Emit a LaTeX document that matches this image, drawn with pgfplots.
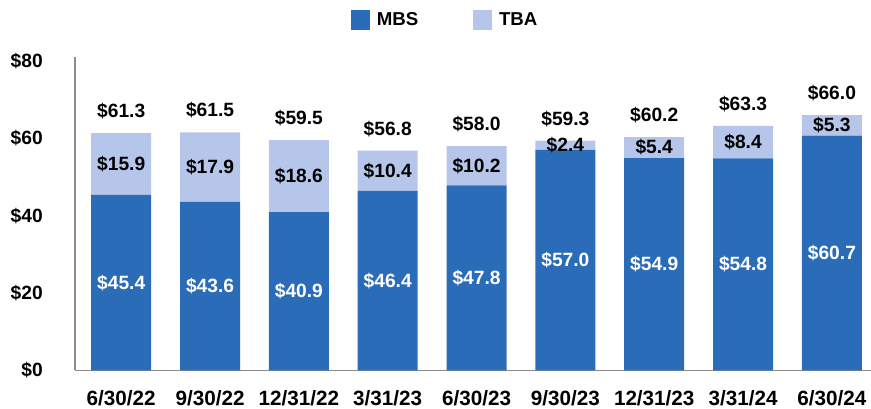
\documentclass[border=0pt]{standalone}
\usepackage{pgfplots}
\pgfplotsset{compat=1.18}
\usepackage{pgfplotstable}
\usepackage{fontspec}
\setmainfont{Liberation Sans}
\definecolor{mbs}{HTML}{2B6CB9}
\definecolor{tba}{HTML}{B6C5EA}
\definecolor{axgray}{HTML}{8C8C8C}
\pgfplotstableread{
x mbs tba zero tot
0 45.4 15.9 0.001 61.3
1 43.6 17.9 0.001 61.5
2 40.9 18.6 0.001 59.5
3 46.4 10.4 0.001 56.8
4 47.8 10.2 0.001 58.0
5 57.0 2.4 0.001 59.3
6 54.9 5.4 0.001 60.2
7 54.8 8.4 0.001 63.3
8 60.7 5.3 0.001 66.0
}\datatable
\newcommand{\vfont}{\fontsize{14.4}{16}\selectfont\bfseries}
\begin{document}
\begin{tikzpicture}
\begin{axis}[
  at={(56.25pt,28.875pt)}, anchor=south west,
  scale only axis,
  width=597pt, height=235.125pt,
  ybar stacked, bar width=45pt,
  xmin=-0.52, xmax=8.44,
  ymin=0, ymax=81,
  axis x line*=bottom, axis y line*=left,
  axis line style={-, draw=axgray, line width=1.1pt},
  major tick length=0pt,
  xtick={0,...,8},
  xticklabels={6/30/22,9/30/22,12/31/22,3/31/23,6/30/23,9/30/23,12/31/23,3/31/24,6/30/24},
  ytick={0,20,40,60,80},
  yticklabels={\$0,\$20,\$40,\$60,\$80},
  xticklabel style={font=\fontsize{15.5}{17}\selectfont\bfseries, anchor=center, yshift=-20.6pt},
  yticklabel style={font=\fontsize{14.4}{16}\selectfont\bfseries, anchor=east, inner sep=0pt, xshift=-24pt},
  legend style={draw=none, at={(0.4654,1.118)}, anchor=center, legend columns=-1,
    font=\fontsize{14}{16}\selectfont\bfseries,
    /tikz/every even column/.append style={column sep=39pt}},
  point meta=explicit symbolic,
  nodes near coords={\$\pgfplotspointmeta},
]
\addplot[fill=mbs, draw=none,
  legend image code/.code={\fill[mbs] (0pt,-7.3pt) rectangle (14.6pt,7.3pt); \path (17.5pt,0pt);},
  every node near coord/.style={font=\vfont, anchor=center, text=white}]
  table[x=x, y=mbs, meta=mbs]{\datatable};
\addplot[fill=tba, draw=none,
  legend image code/.code={\fill[tba] (0pt,-7.3pt) rectangle (14.6pt,7.3pt); \path (17.5pt,0pt);},
  every node near coord/.style={font=\vfont, anchor=center, text=black}]
  table[x=x, y=tba, meta=tba]{\datatable};
\addplot[fill=white, fill opacity=0, draw=none,
  every node near coord/.style={font=\vfont, anchor=center, text=black, text opacity=1, yshift=16.5pt}]
  table[x=x, y=zero, meta=tot]{\datatable};
\legend{MBS,TBA}
\end{axis}
\pgfresetboundingbox
\path[use as bounding box] (0,0) rectangle (653.25pt,306.75pt);
\end{tikzpicture}
\end{document}
